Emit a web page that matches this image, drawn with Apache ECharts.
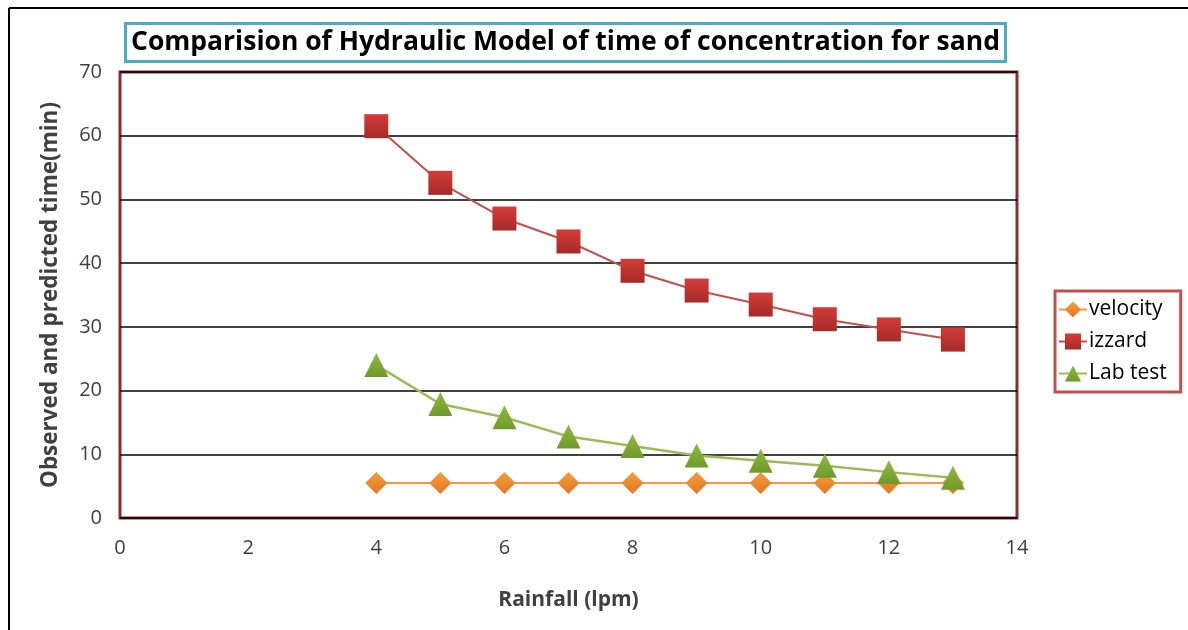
<!DOCTYPE html>
<html>
<head>
<meta charset="utf-8">
<script src="https://cdn.jsdelivr.net/npm/echarts@6/dist/echarts.min.js"></script>
<style>
  html, body { margin: 0; padding: 0; background: #fff; }
  #chart { width: 1188px; height: 630px; }
</style>
</head>
<body>
<div id="chart"></div>
<script>
// rainfall values (lpm)
const rainfall = [4, 5, 6, 7, 8, 9, 10, 11, 12, 13];
// time of concentration (min)
const velocity = [5.5, 5.5, 5.5, 5.5, 5.5, 5.5, 5.5, 5.5, 5.5, 5.5];
const izzard = [61.5, 52.6, 47, 43.4, 38.8, 35.7, 33.5, 31.2, 29.6, 28];
const labTest = [24, 17.9, 15.8, 12.8, 11.3, 9.8, 9, 8.2, 7.2, 6.3];

const font = "'Open Sans', 'DejaVu Sans', sans-serif";

const pairs = (ys) => rainfall.map((x, i) => [x, ys[i]]);

const grad = (top, bottom) =>
  new echarts.graphic.LinearGradient(0, 0, 0, 1, [
    { offset: 0, color: top },
    { offset: 1, color: bottom },
  ]);

const chart = echarts.init(document.getElementById("chart"));
chart.setOption({
  animation: false,
  textStyle: { fontFamily: font },
  title: {
    text: "Comparision of Hydraulic Model of time of concentration for sand",
    left: 125,
    top: 23,
    padding: [6, 6, 6, 6],
    borderColor: "#4bacc6",
    borderWidth: 3,
    textStyle: { fontFamily: font, fontSize: 26.5, fontWeight: "bold", color: "#000" },
  },
  legend: {
    orient: "vertical",
    left: 1055,
    top: 291,
    padding: [8, 14, 8, 3],
    itemGap: 11,
    itemWidth: 28,
    itemHeight: 20,
    borderColor: "#c0504d",
    borderWidth: 3,
    textStyle: { fontFamily: font, fontSize: 21, color: "#000", padding: [0, 0, 0, -3] },
    data: ["velocity", "izzard", "Lab test"],
  },
  graphic: [
    { type: "line", shape: { x1: 9, y1: 8, x2: 1188, y2: 8 }, style: { stroke: "#000", lineWidth: 2 } },
    { type: "line", shape: { x1: 9, y1: 8, x2: 9, y2: 630 }, style: { stroke: "#000", lineWidth: 2 } },
  ],
  grid: {
    left: 120,
    right: 171,
    top: 72,
    bottom: 112,
    show: true,
    borderColor: "#8b2c2f",
    borderWidth: 3,
  },
  xAxis: {
    type: "value",
    min: 0,
    max: 14,
    interval: 2,
    name: "Rainfall (lpm)",
    nameLocation: "middle",
    nameGap: 72,
    nameTextStyle: { fontFamily: font, fontSize: 21, fontWeight: "bold", color: "#404040" },
    axisLine: { show: false },
    axisTick: { show: false },
    splitLine: { show: false },
    axisLabel: { margin: 20, fontSize: 20, color: "#404040", fontFamily: font },
  },
  yAxis: {
    type: "value",
    min: 0,
    max: 70,
    interval: 10,
    name: "Observed and predicted time(min)",
    nameLocation: "middle",
    nameRotate: 90,
    nameGap: 58,
    nameTextStyle: { fontFamily: font, fontSize: 22.5, fontWeight: "bold", color: "#404040" },
    axisLine: { show: false },
    axisTick: { show: false },
    splitLine: { show: true, lineStyle: { color: "#000", width: 1.5 } },
    axisLabel: { margin: 18, fontSize: 20, color: "#404040", fontFamily: font },
  },
  series: [
    {
      name: "velocity",
      type: "line",
      data: pairs(velocity),
      symbol: "diamond",
      symbolSize: 22,
      lineStyle: { color: "#f79646", width: 2 },
      itemStyle: { color: grad("#f99a40", "#e07a1c") },
      z: 2,
    },
    {
      name: "izzard",
      type: "line",
      data: pairs(izzard),
      symbol: "rect",
      symbolSize: 24,
      lineStyle: { color: "#c0504d", width: 2 },
      itemStyle: { color: grad("#d43c38", "#a52a28") },
      z: 3,
    },
    {
      name: "Lab test",
      type: "line",
      data: pairs(labTest),
      symbol: "triangle",
      symbolSize: 24,
      lineStyle: { color: "#9bbb59", width: 2.5 },
      itemStyle: { color: grad("#8fb93f", "#6e9a2a") },
      z: 4,
    },
  ],
});
</script>
</body>
</html>
